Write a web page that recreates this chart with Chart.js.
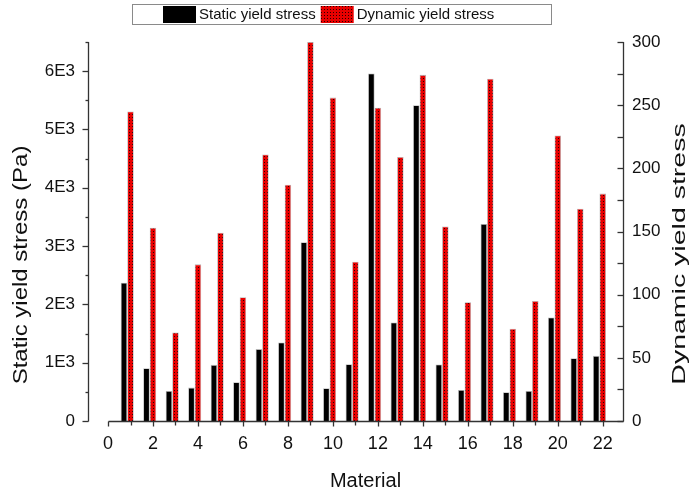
<!DOCTYPE html>
<html>
<head>
<meta charset="utf-8">
<script src="https://cdn.jsdelivr.net/npm/chart.js@4.4.1/dist/chart.umd.min.js"></script>
<style>
  html, body { margin: 0; padding: 0; background: #fff; }
  canvas { display: block; }
</style>
</head>
<body>
<canvas id="c" width="691" height="496"></canvas>
<script>
// Material numbers and measured yield stresses
const materials = [1, 2, 3, 4, 5, 6, 7, 8, 9, 10, 11, 12, 13, 14, 15, 16, 17, 18, 19, 20, 21, 22];
const staticYield = [2370, 906, 516, 573, 963, 665, 1233, 1346, 3065, 562, 975, 5960, 1690, 5415, 970, 533, 3380, 493, 516, 1776, 1078, 1117];
const dynamicYield = [245, 153, 70, 124, 149, 98, 211, 187, 300, 256, 126, 248, 209, 274, 154, 94, 271, 73, 95, 226, 168, 180];

// Tick positions (labels shown on every other / every second tick)
const xTicks = [0, 1, 2, 3, 4, 5, 6, 7, 8, 9, 10, 11, 12, 13, 14, 15, 16, 17, 18, 19, 20, 21, 22];
const leftTicks = [0, 500, 1000, 1500, 2000, 2500, 3000, 3500, 4000, 4500, 5000, 5500, 6000, 6500];
const rightTicks = [0, 25, 50, 75, 100, 125, 150, 175, 200, 225, 250, 275, 300];

const seriesNames = ['Static yield stress', 'Dynamic yield stress'];
const FONT = "'Liberation Sans', Arial, sans-serif";
const AXIS = '#333333';

// red dotted fill
function makeHatch() {
  const c = document.createElement('canvas');
  c.width = 3; c.height = 3;
  const g = c.getContext('2d');
  g.fillStyle = '#e80000';
  g.fillRect(0, 0, 3, 3);
  g.fillStyle = '#2a0000';
  g.fillRect(0, 0, 1, 1);
  return g.createPattern(c, 'repeat');
}
const ctx = document.getElementById('c').getContext('2d');
const hatch = makeHatch();

const xy = (vals) => materials.map((m, i) => ({ x: m, y: vals[i] }));

function setTicks(values) {
  return (scale) => { scale.ticks = values.map(v => ({ value: v })); };
}

// Axis lines and tick marks
const axesPlugin = {
  id: 'axesPlugin',
  afterDatasetsDraw(chart) {
    const { ctx, chartArea: a, scales } = chart;
    const x = scales.x, yL = scales.yL, yR = scales.yR;
    const line = (x1, y1, x2, y2) => { ctx.beginPath(); ctx.moveTo(x1, y1); ctx.lineTo(x2, y2); ctx.stroke(); };
    ctx.save();
    ctx.strokeStyle = AXIS;
    ctx.lineWidth = 1.3;
    const b = Math.round(a.bottom) + 0.5;
    const l = Math.round(a.left) + 0.5;
    const r = Math.round(a.right) + 0.5;
    const t = Math.round(a.top);
    line(Math.round(x.getPixelForValue(0)) + 0.5, b, r, b);
    line(l, t, l, b);
    line(r, t, r, b);
    x.ticks.forEach(tk => {
      const px = Math.round(x.getPixelForValue(tk.value)) + 0.5;
      line(px, b, px, b + (tk.value % 2 ? 4 : 5));
    });
    yL.ticks.forEach(tk => {
      const py = Math.round(yL.getPixelForValue(tk.value)) + 0.5;
      line(l - (tk.value % 1000 ? 3 : 6), py, l, py);
    });
    yR.ticks.forEach(tk => {
      const py = Math.round(yR.getPixelForValue(tk.value)) + 0.5;
      line(r - 6, py, r, py);
    });
    ctx.restore();
  }
};

// Axis titles
function drawText(ctx, text, cx, cy, rot, size, sx) {
  ctx.save();
  ctx.translate(cx, cy);
  ctx.rotate(rot);
  ctx.scale(sx, 1);
  ctx.font = size + 'px ' + FONT;
  ctx.fillStyle = '#111';
  ctx.textAlign = 'center';
  ctx.textBaseline = 'middle';
  ctx.fillText(text, 0, 0);
  ctx.restore();
}
const titlesPlugin = {
  id: 'titlesPlugin',
  afterDraw(chart) {
    const { ctx, chartArea: a, scales } = chart;
    const xMid = (scales.x.getPixelForValue(0) + a.right) / 2;
    drawText(ctx, 'Material', xMid, 481, 0, 20, 1);
    drawText(ctx, 'Static yield stress (Pa)', 21, 265, -Math.PI / 2, 20, 1.2);
    drawText(ctx, 'Dynamic yield stress', 680, 254, -Math.PI / 2, 19, 1.5);
  }
};

// Boxed legend along the top
const legendPlugin = {
  id: 'boxLegend',
  afterDraw(chart) {
    const { ctx } = chart;
    const ds = chart.data.datasets;
    ctx.save();
    ctx.strokeStyle = '#8a8a8a';
    ctx.lineWidth = 1;
    ctx.strokeRect(132.5, 4.5, 419, 20);
    ctx.font = '15px ' + FONT;
    ctx.textBaseline = 'middle';
    let x = 163;
    [0, 1].forEach(i => {
      ctx.fillStyle = ds[i].backgroundColor;
      ctx.fillRect(x, 6, 33, 17);
      ctx.fillStyle = '#111';
      ctx.fillText(ds[i].label, x + 36, 15);
      x += 36 + ctx.measureText(ds[i].label).width + 5;
    });
    ctx.restore();
  }
};

new Chart(ctx, {
  type: 'bar',
  data: {
    datasets: [
      {
        label: seriesNames[0],
        data: xy(staticYield),
        yAxisID: 'yL',
        backgroundColor: '#000000',
        borderColor: 'rgba(150,150,150,0.7)',
        borderWidth: 0.8
      },
      {
        label: seriesNames[1],
        data: xy(dynamicYield),
        yAxisID: 'yR',
        backgroundColor: hatch,
        borderColor: 'rgba(150,150,150,0.7)',
        borderWidth: 0.8
      },
      {
        // empty slot so each pair sits with the dynamic bar on its material number
        label: '',
        data: materials.map(m => ({ x: m, y: null })),
        yAxisID: 'yR',
        backgroundColor: 'rgba(0,0,0,0)'
      }
    ]
  },
  options: {
    responsive: false,
    animation: false,
    events: [],
    categoryPercentage: 0.87,
    barPercentage: 1,
    layout: { padding: { top: 42, left: 0, right: 0, bottom: 0 } },
    plugins: { legend: { display: false }, tooltip: { enabled: false } },
    scales: {
      x: {
        type: 'linear',
        offset: false,
        min: -0.89,
        max: 22.9,
        afterBuildTicks: setTicks(xTicks),
        afterFit: (s) => { s.height = 75; },
        grid: { display: false, drawTicks: false, tickLength: 0, offset: false },
        border: { display: false },
        ticks: {
          autoSkip: false,
          maxRotation: 0,
          padding: 12,
          color: '#111',
          font: { family: FONT, size: 18 },
          callback: (v) => (v % 2 === 0 ? String(v) : '')
        }
      },
      yL: {
        type: 'linear',
        position: 'left',
        min: 0,
        max: 6500,
        afterBuildTicks: setTicks(leftTicks),
        afterFit: (s) => { s.width = 88; },
        grid: { display: false, drawTicks: false, tickLength: 0 },
        border: { display: false },
        ticks: {
          padding: 13,
          color: '#111',
          font: { family: FONT, size: 17 },
          callback: (v) => (v % 1000 !== 0 ? '' : (v === 0 ? '0' : (v / 1000) + 'E3'))
        }
      },
      yR: {
        type: 'linear',
        position: 'right',
        min: 0,
        max: 300,
        afterBuildTicks: setTicks(rightTicks),
        afterFit: (s) => { s.width = 68; },
        grid: { display: false, drawTicks: false, tickLength: 0 },
        border: { display: false },
        ticks: {
          padding: 9,
          color: '#111',
          font: { family: FONT, size: 17 },
          callback: (v) => (v % 50 === 0 ? String(v) : '')
        }
      }
    }
  },
  plugins: [axesPlugin, titlesPlugin, legendPlugin]
});
</script>
</body>
</html>
